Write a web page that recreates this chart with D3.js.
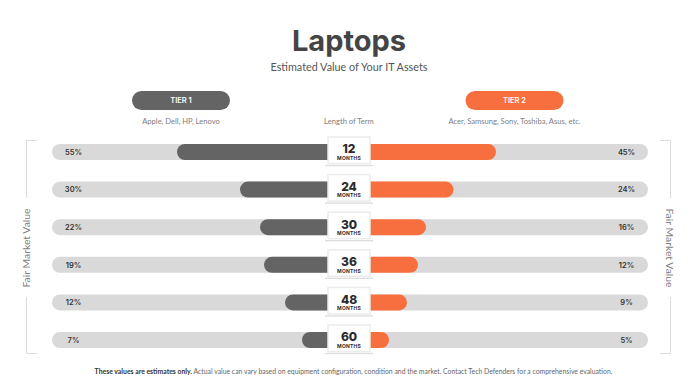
<!DOCTYPE html>
<html>
<head>
<meta charset="utf-8">
<script src="https://cdn.jsdelivr.net/npm/d3@7"></script>
<style>
  html, body { margin: 0; padding: 0; background: #fff; }
  svg { display: block; }
  text { font-family: Lato, "Open Sans", sans-serif; }
  .heavy { font-family: Inter, Lato, sans-serif; }
</style>
</head>
<body>
<svg id="chart"></svg>
<script>
const terms = [12, 24, 30, 36, 48, 60];
const tier1 = [55, 30, 22, 19, 12, 7];
const tier2 = [45, 24, 16, 12, 9, 5];

const width = 698, height = 392;
const centerX = 349;
const dark = '#646464', orange = '#f76f3f', track = '#d9d9d9', ink = '#444';

const svg = d3.select('#chart').attr('width', width).attr('height', height);

const yScale = d3.scalePoint().domain(terms).range([152, 340]);

// the bars in the picture are not proportional, so each side gets its own bent scale
const xLeft = d3.scaleLinear()
    .domain([7, 12, 19, 22, 30, 55])
    .range([302, 285, 264, 260, 240, 177]);
const xRight = d3.scaleLinear()
    .domain([5, 9, 12, 16, 24, 45])
    .range([389, 407, 418, 426, 453.5, 496]);

// Title block
svg.append('text').attr('class', 'heavy')
    .attr('x', centerX).attr('y', 51)
    .attr('text-anchor', 'middle')
    .attr('font-size', 29).attr('font-weight', 700).attr('fill', ink)
    .text('Laptops');

svg.append('text')
    .attr('x', centerX).attr('y', 71)
    .attr('text-anchor', 'middle')
    .attr('font-size', 10.8).attr('fill', '#555')
    .text('Estimated Value of Your IT Assets');

// Tier pills
const tiers = [
    { label: 'TIER 1', cx: 181, color: dark, sub: 'Apple, Dell, HP, Lenovo' },
    { label: 'TIER 2', cx: 514.5, color: orange, sub: 'Acer, Samsung, Sony, Toshiba, Asus, etc.' }
];

tiers.forEach(t => {
    svg.append('rect')
        .attr('x', t.cx - 49).attr('y', 91)
        .attr('width', 98).attr('height', 19)
        .attr('rx', 9.5).attr('fill', t.color);
    svg.append('text').attr('class', 'heavy')
        .attr('x', t.cx).attr('y', 103.3)
        .attr('text-anchor', 'middle')
        .attr('font-size', 7.5).attr('font-weight', 600).attr('fill', '#fff')
        .text(t.label);
    svg.append('text')
        .attr('x', t.cx).attr('y', 123.5)
        .attr('text-anchor', 'middle')
        .attr('font-size', 7.6).attr('fill', '#808080')
        .text(t.sub);
});

svg.append('text')
    .attr('x', centerX).attr('y', 123.5)
    .attr('text-anchor', 'middle')
    .attr('font-size', 7.6).attr('fill', '#808080')
    .text('Length of Term');

// Side brackets
const bracketLine = d3.line();
const bracketColor = '#dcdcdc';
[
    [[37, 140.5], [26.5, 140.5], [26.5, 198]],
    [[26.5, 297], [26.5, 353.5], [37, 353.5]],
    [[660, 140.5], [670.5, 140.5], [670.5, 198]],
    [[670.5, 297], [670.5, 353.5], [660, 353.5]]
].forEach(p => {
    svg.append('path')
        .attr('d', bracketLine(p))
        .attr('fill', 'none')
        .attr('stroke', bracketColor);
});

svg.append('text')
    .attr('transform', 'translate(30,248) rotate(-90)')
    .attr('text-anchor', 'middle')
    .attr('font-size', 10.4).attr('fill', '#808080')
    .text('Fair Market Value');

svg.append('text')
    .attr('transform', 'translate(666,248) rotate(90)')
    .attr('text-anchor', 'middle')
    .attr('font-size', 10.4).attr('fill', '#808080')
    .text('Fair Market Value');

// Rows
const rows = terms.map((term, i) => ({ term, left: tier1[i], right: tier2[i] }));

const row = svg.selectAll('g.row')
    .data(rows)
    .join('g')
    .attr('class', 'row')
    .attr('transform', d => `translate(0,${yScale(d.term)})`);

row.append('rect')
    .attr('x', 52).attr('y', -8)
    .attr('width', 596).attr('height', 16)
    .attr('rx', 8).attr('fill', track);

row.append('rect')
    .attr('x', d => xLeft(d.left)).attr('y', -8)
    .attr('width', d => centerX + 10 - xLeft(d.left)).attr('height', 16)
    .attr('rx', 8).attr('fill', dark);

row.append('rect')
    .attr('x', centerX - 10).attr('y', -8)
    .attr('width', d => xRight(d.right) - centerX + 10).attr('height', 16)
    .attr('rx', 8).attr('fill', orange);

row.append('text').attr('class', 'heavy')
    .attr('x', 73.5).attr('y', 2.8)
    .attr('text-anchor', 'middle')
    .attr('font-size', 7.5).attr('font-weight', 600).attr('fill', '#333')
    .text(d => d.left + '%');

row.append('text').attr('class', 'heavy')
    .attr('x', 626.5).attr('y', 2.8)
    .attr('text-anchor', 'middle')
    .attr('font-size', 7.5).attr('font-weight', 600).attr('fill', '#333')
    .text(d => d.right + '%');

// Term badges
row.append('rect')
    .attr('x', centerX - 24).attr('y', 12.8)
    .attr('width', 48).attr('height', 1.4)
    .attr('fill', '#dedede');

row.append('rect')
    .attr('x', centerX - 21).attr('y', -15)
    .attr('width', 42).attr('height', 26.5)
    .attr('fill', '#fff')
    .attr('stroke', '#ececec').attr('stroke-width', 1.5);

row.append('text').attr('class', 'heavy')
    .attr('x', centerX).attr('y', 1.3)
    .attr('text-anchor', 'middle')
    .attr('font-size', 12).attr('font-weight', 800).attr('fill', '#2b2b2b')
    .text(d => d.term);

row.append('text').attr('class', 'heavy')
    .attr('x', centerX).attr('y', 7.8)
    .attr('text-anchor', 'middle')
    .attr('font-size', 5).attr('font-weight', 700).attr('letter-spacing', 0.2).attr('fill', '#2b2b2b')
    .text('MONTHS');

// Footnote
const foot = svg.append('text')
    .attr('x', 353.5).attr('y', 374)
    .attr('text-anchor', 'middle')
    .attr('font-size', 6.85).attr('fill', '#666');
foot.append('tspan').attr('font-weight', 700).attr('fill', '#333')
    .text('These values are estimates only.');
foot.append('tspan')
    .text(' Actual value can vary based on equipment configuration, condition and the market. Contact Tech Defenders for a comprehensive evaluation.');
</script>
</body>
</html>
